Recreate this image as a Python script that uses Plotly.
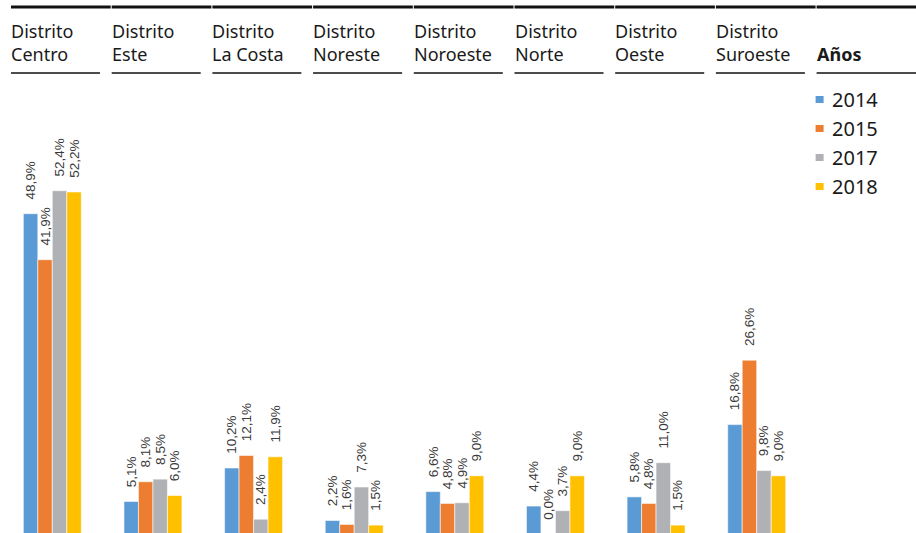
import plotly.graph_objects as go

districts_line1 = ["Distrito"] * 8
districts_line2 = ["Centro", "Este", "La Costa", "Noreste", "Noroeste", "Norte", "Oeste", "Suroeste"]
categories = [f"Distrito {d}" for d in districts_line2]
years = ["2014", "2015", "2017", "2018"]
values = {
    "2014": [48.9, 5.1, 10.2, 2.2, 6.6, 4.4, 5.8, 16.8],
    "2015": [41.9, 8.1, 12.1, 1.6, 4.8, 0.0, 4.8, 26.6],
    "2017": [52.4, 8.5, 2.4, 7.3, 4.9, 3.7, 11.0, 9.8],
    "2018": [52.2, 6.0, 11.9, 1.5, 9.0, 9.0, 1.5, 9.0],
}
colors = {"2014": "#5B9BD5", "2015": "#ED7D31", "2017": "#B0B1B4", "2018": "#FFC000"}
legend_title = "Años"

W, H = 916, 533
ML, MR, MT, MB = 2, 109, 80, 0
PW, PH = W - ML - MR, H - MT - MB
BARGAP = 0.424
Y0_PX = 535  # pixel row of the value 0 (just below the visible area)


def py(px_from_top):
    return (H - MB - px_from_top) / PH


def pxx(px_from_left):
    return (px_from_left - ML) / PW


def fmt(v):
    return f"{v:.1f}".replace(".", ",") + "%"


fig = go.Figure()
NB = "\u00a0"
label_font = dict(family="Liberation Sans, Arial", size=13.5, color="#3a3a3a")
annotations = []
for k, yr in enumerate(years):
    fig.add_trace(go.Bar(
        x=list(range(len(categories))),
        y=values[yr],
        name=yr,
        marker=dict(color=colors[yr], line=dict(color="rgba(255,255,255,0.7)", width=0.8)),
        text=[NB * 3 + fmt(v) for v in values[yr]],
        textposition="outside",
        textangle=-90,
        constraintext="none",
        cliponaxis=False,
        textfont=label_font,
        showlegend=False,
        hoverinfo="skip",
    ))
    # zero-height bars get no bar text in plotly; label them with an annotation
    bw = (1 - BARGAP) / len(years)
    for i, v in enumerate(values[yr]):
        if v == 0:
            xc = i - (1 - BARGAP) / 2 + (k + 0.5) * bw
            annotations.append(dict(xref="x", yref="paper", x=xc, y=py(Y0_PX), xanchor="center",
                                    yanchor="bottom", text=fmt(v), textangle=-90, showarrow=False,
                                    font=label_font, yshift=13))

shapes = []
header_font = dict(family="Noto Sans", size=18, color="#1a1a1a")
legend_font = dict(family="Noto Sans", size=20, color="#1a1a1a")
col_left = [11 + 100.7 * i for i in range(9)]
for i in range(9):
    x0 = col_left[i]
    x1 = x0 + 99.7 if i < 8 else W
    shapes.append(dict(type="line", xref="paper", yref="paper", x0=pxx(x0), x1=pxx(x1),
                       y0=py(7), y1=py(7), line=dict(color="#111111", width=3)))
    ux1 = x0 + 89 if i < 8 else W
    shapes.append(dict(type="line", xref="paper", yref="paper", x0=pxx(x0), x1=pxx(ux1),
                       y0=py(73), y1=py(73), line=dict(color="#111111", width=1.5)))
    if i < 8:
        txt = districts_line1[i] + "<br>" + districts_line2[i]
    else:
        txt = "<b>" + legend_title + "</b>"
    annotations.append(dict(xref="paper", yref="paper", x=pxx(x0), y=py(68), xanchor="left", yanchor="bottom",
                            text=txt, align="left", showarrow=False, font=header_font, xshift=-2))

# manual legend
leg_x = col_left[8] - 1
for k, yr in enumerate(years):
    cy = 99.5 + k * 29
    shapes.append(dict(type="rect", xref="paper", yref="paper",
                       x0=pxx(leg_x), x1=pxx(leg_x + 8), y0=py(cy + 3.5), y1=py(cy - 3.5),
                       fillcolor=colors[yr], line=dict(width=0)))
    annotations.append(dict(xref="paper", yref="paper", x=pxx(leg_x + 14), y=py(cy), xanchor="left",
                            yanchor="middle", text=yr, showarrow=False, font=legend_font))

fig.update_layout(
    width=W, height=H,
    margin=dict(l=ML, r=MR, t=MT, b=MB),
    paper_bgcolor="white", plot_bgcolor="white",
    barmode="group", bargap=BARGAP, bargroupgap=0,
    xaxis=dict(range=[-0.5, 7.5], showticklabels=False, showgrid=False, zeroline=False,
               showline=False, ticks=""),
    yaxis=dict(range=[0.3, 69.25], showticklabels=False, showgrid=False, zeroline=False,
               showline=False, ticks=""),
    shapes=shapes,
    annotations=annotations,
)
fig.write_html("out.html", config={"displayModeBar": False},
               post_script="document.body.style.margin='0';document.body.style.overflow='hidden';")
